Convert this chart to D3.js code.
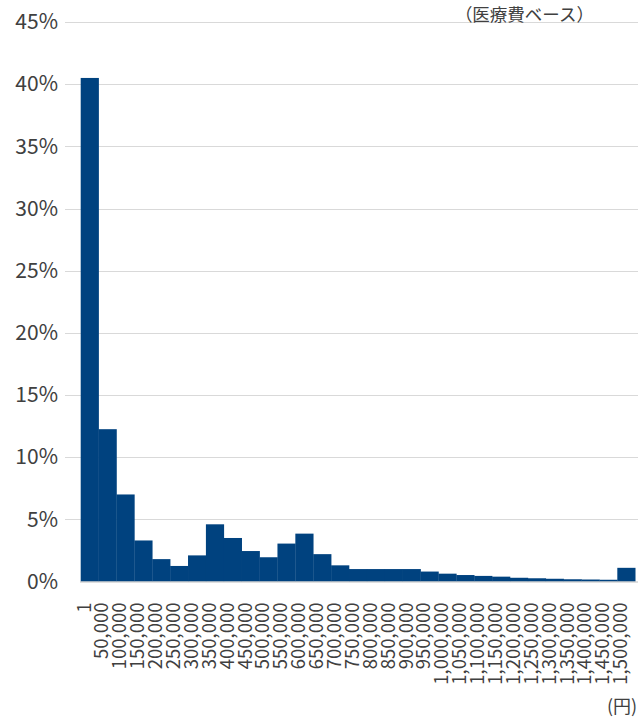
<!DOCTYPE html>
<html>
<head>
<meta charset="utf-8">
<script src="https://cdn.jsdelivr.net/npm/d3@7"></script>
<style>
  html, body { margin: 0; padding: 0; background: #fff; overflow: hidden; }
  svg { display: block; }
  text { font-family: "Noto Sans CJK JP", "Noto Sans", sans-serif; fill: #404040; }
</style>
</head>
<body>
<svg id="chart" width="638" height="717"></svg>
<script>
// Distribution of amounts (yen), share of total in percent
const categories = [
  "1", "50,000", "100,000", "150,000", "200,000", "250,000", "300,000", "350,000",
  "400,000", "450,000", "500,000", "550,000", "600,000", "650,000", "700,000", "750,000",
  "800,000", "850,000", "900,000", "950,000", "1,000,000", "1,050,000", "1,100,000", "1,150,000",
  "1,200,000", "1,250,000", "1,300,000", "1,350,000", "1,400,000", "1,450,000", "1,500,000"
];
const shares = [
  40.5, 12.25, 7.0, 3.3, 1.8, 1.25, 2.1, 4.6,
  3.5, 2.45, 1.95, 3.05, 3.85, 2.2, 1.3, 1.0,
  1.0, 1.0, 1.0, 0.8, 0.63, 0.52, 0.45, 0.39,
  0.3, 0.26, 0.22, 0.18, 0.16, 0.14, 1.1
];
const yTicks = [0, 5, 10, 15, 20, 25, 30, 35, 40, 45];
const noteText = "（医療費ベース）";
const unitText = "(円)";

const svg = d3.select("#chart");

const x = d3.scaleBand()
  .domain(categories)
  .range([80.7, 635.2])
  .paddingInner(0)
  .paddingOuter(0);

const y = d3.scaleLinear()
  .domain([0, 45])
  .range([581.5, 22]);

// horizontal gridlines
svg.append("g")
  .selectAll("line")
  .data(yTicks.filter(d => d > 0))
  .join("line")
  .attr("x1", 65)
  .attr("x2", 638)
  .attr("y1", d => Math.round(y(d)) + 0.5)
  .attr("y2", d => Math.round(y(d)) + 0.5)
  .attr("stroke", "#d9d9d9")
  .attr("stroke-width", 1);

// y-axis labels
const yAxis = d3.axisLeft(y)
  .tickValues(yTicks)
  .tickFormat(d => d + "%")
  .tickSize(0)
  .tickPadding(0);

svg.append("g")
  .attr("transform", "translate(58,0)")
  .call(yAxis)
  .call(g => g.select(".domain").remove())
  .call(g => g.selectAll("text")
    .attr("font-size", 21)
    .attr("fill", "#404040")
    .attr("font-family", "'Noto Sans CJK JP', 'Noto Sans', sans-serif"));

// bars
svg.append("g")
  .selectAll("rect")
  .data(shares)
  .join("rect")
  .attr("x", (d, i) => x(categories[i]))
  .attr("width", x.bandwidth() + 0.3)
  .attr("y", d => y(d))
  .attr("height", d => y(0) - y(d))
  .attr("fill", "#00427f");

// x-axis baseline and rotated category labels
const xAxis = d3.axisBottom(x)
  .tickSize(0)
  .tickPadding(0);

svg.append("g")
  .attr("transform", `translate(0,${y(0)})`)
  .call(xAxis)
  .call(g => g.select(".domain")
    .attr("stroke", "#bfbfbf")
    .attr("d", "M80,0.5H638"))
  .call(g => g.selectAll("text")
    .attr("font-size", 18.5)
    .attr("fill", "#404040")
    .attr("font-family", "'Noto Sans CJK JP', 'Noto Sans', sans-serif")
    .attr("text-anchor", "end")
    .attr("transform", "translate(0,21) rotate(-90)")
    .attr("x", 0)
    .attr("y", 0)
    .attr("dy", "0.05em"));

// note in the top-right corner
svg.append("text")
  .attr("x", 594)
  .attr("y", 20.5)
  .attr("text-anchor", "end")
  .attr("font-size", 17.5)
  .text(noteText);

// unit label
svg.append("text")
  .attr("x", 607)
  .attr("y", 713)
  .attr("font-size", 18)
  .text(unitText);
</script>
</body>
</html>
